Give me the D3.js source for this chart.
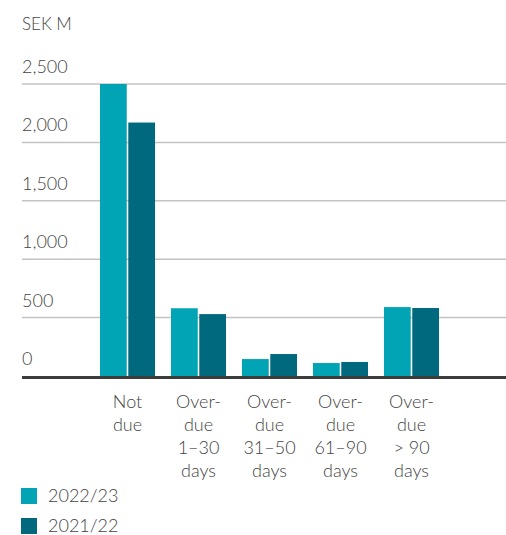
<!DOCTYPE html>
<html>
<head>
<meta charset="utf-8">
<script src="https://cdn.jsdelivr.net/npm/d3@7"></script>
<style>
  body { margin: 0; background: #fff; }
  text { font-family: Lato, 'Noto Sans', sans-serif; font-weight: 300; fill: #444; }
</style>
</head>
<body>
<div class="container"></div>
<script>
const categories = [
  ['Not', 'due'],
  ['Over-', 'due', '1–30', 'days'],
  ['Over-', 'due', '31–50', 'days'],
  ['Over-', 'due', '61–90', 'days'],
  ['Over-', 'due', '> 90', 'days']
]
const seriesNames = ['2022/23', '2021/22']
const values2023 = [2500, 580, 145, 111, 590]
const values2022 = [2170, 530, 188, 120, 582]
const yTicks = [0, 500, 1000, 1500, 2000, 2500]
const colors = ['#00a4b4', '#00697e']

const width = 506
const height = 535
const left = 22
const right = 506
const zeroY = 376
const topY = 84

const svg = d3.select('.container').append('svg')
  .attr('width', width).attr('height', height)

const keys = categories.map((c, i) => 'c' + i)

const xScale = d3.scaleBand()
  .domain(keys)
  .range([100, 439])
  .paddingInner(0.225)
  .paddingOuter(0)

const xInner = d3.scaleBand()
  .domain(seriesNames)
  .range([0, xScale.bandwidth()])
  .paddingInner(0.055)

const yScale = d3.scaleLinear()
  .domain([0, 2500])
  .range([zeroY, topY])

// gridlines
svg.append('g')
  .selectAll('line')
  .data(yTicks.filter(d => d > 0))
  .join('line')
  .attr('x1', left).attr('x2', right)
  .attr('y1', d => yScale(d)).attr('y2', d => yScale(d))
  .attr('stroke', '#c3c3c3')
  .attr('stroke-width', 1.5)

// tick labels
svg.append('g')
  .selectAll('text')
  .data(yTicks)
  .join('text')
  .attr('x', left)
  .attr('y', d => yScale(d) - 11)
  .attr('font-size', 18)
  .text(d => d3.format(',')(d))

svg.append('text')
  .attr('x', left).attr('y', 30)
  .attr('font-size', 17)
  .text('SEK M')

// bars
const data = keys.map((k, i) => ({ key: k, vals: [values2023[i], values2022[i]] }))

const groups = svg.append('g')
  .selectAll('g')
  .data(data)
  .join('g')
  .attr('transform', d => `translate(${xScale(d.key)},0)`)

groups.selectAll('rect')
  .data(d => d.vals.map((v, j) => ({ name: seriesNames[j], v, j })))
  .join('rect')
  .attr('x', d => xInner(d.name))
  .attr('width', xInner.bandwidth())
  .attr('y', d => yScale(d.v))
  .attr('height', d => zeroY - yScale(d.v))
  .attr('fill', d => colors[d.j])

// axis line
svg.append('line')
  .attr('x1', left).attr('x2', right)
  .attr('y1', zeroY + 1.5).attr('y2', zeroY + 1.5)
  .attr('stroke', '#3c3c3a')
  .attr('stroke-width', 3)

// category labels
const catLabels = svg.append('g')
  .selectAll('text')
  .data(data)
  .join('text')
  .attr('text-anchor', 'middle')
  .attr('font-size', 18)
  .attr('transform', d => `translate(${xScale(d.key) + xScale.bandwidth() / 2},408)`)

catLabels.selectAll('tspan')
  .data((d, i) => categories[i])
  .join('tspan')
  .attr('x', 0)
  .attr('y', (d, i) => i * 23)
  .text(d => d)

// legend
const legend = svg.append('g')
  .selectAll('g')
  .data(seriesNames)
  .join('g')
  .attr('transform', (d, i) => `translate(${left - 1},${488 + i * 30})`)

legend.append('rect')
  .attr('width', 16).attr('height', 16)
  .attr('fill', (d, i) => colors[i])

legend.append('text')
  .attr('x', 27).attr('y', 14)
  .attr('font-size', 18)
  .text(d => d)
</script>
</body>
</html>
